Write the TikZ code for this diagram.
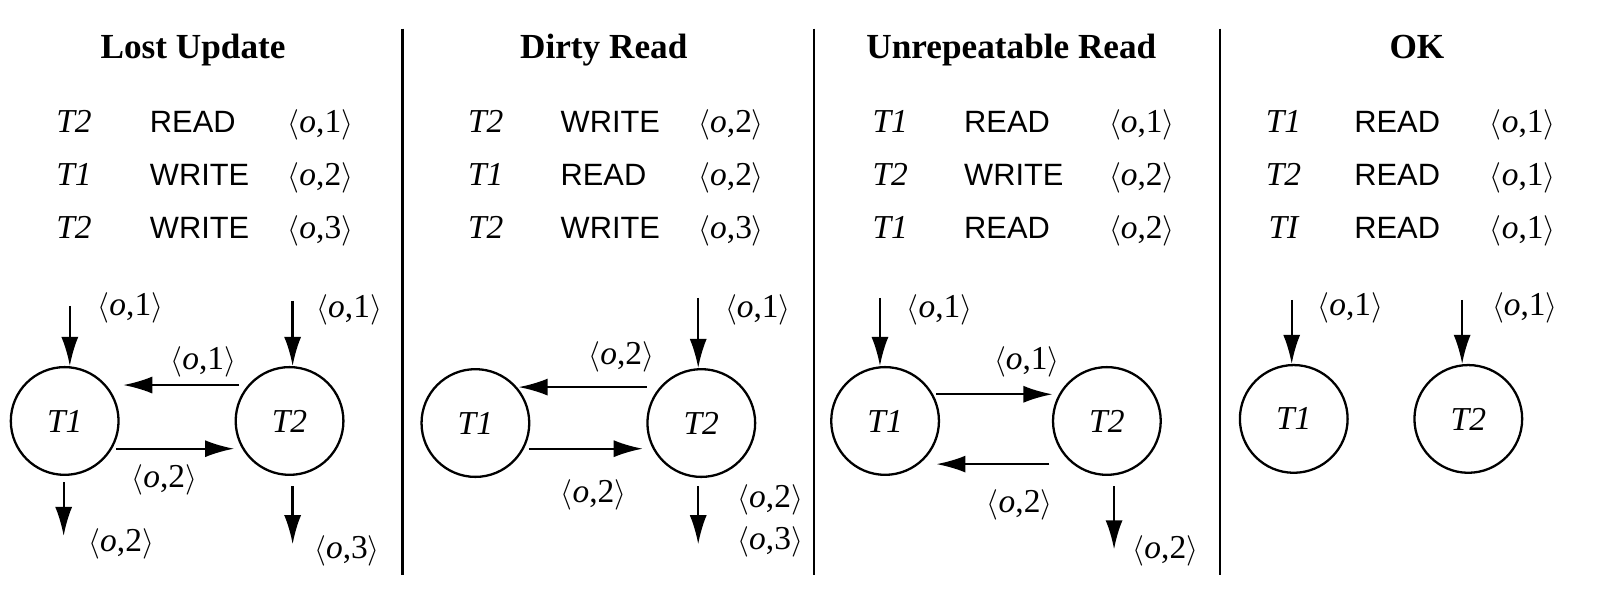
\documentclass[tikz,border=0pt]{standalone}
\usepackage{fontspec}
\setmainfont{Liberation Serif}
\setsansfont{Liberation Sans}
\usepackage{tikz}
\usetikzlibrary{calc}
\tikzset{>=latex}
\usetikzlibrary{arrows.meta}

\newcommand{\opair}[1]{$\langle$\textit{o},#1$\rangle$}

\begin{document}
\begin{tikzpicture}[x=0.0205cm,y=-0.0205cm,
  every node/.style={font=\fontsize{19}{22}\selectfont},
  ttl/.style={anchor=base,font=\fontsize{20}{24}\selectfont\bfseries},
  tx/.style={anchor=base,font=\fontsize{19}{22}\selectfont\itshape},
  op/.style={anchor=base west,font=\fontsize{17.5}{21}\selectfont\sffamily},
  pr/.style={anchor=base},
  tnode/.style={draw,circle,line width=1.3pt,minimum size=2.15cm,inner sep=0pt,
    font=\fontsize{19}{22}\selectfont\itshape},
  arr/.style={-{Latex[length=0.58cm,width=0.34cm]},line width=1.3pt},
  sep/.style={line width=1.4pt}]
\useasboundingbox (0,0) rectangle (1568,577);

% separators
\draw[sep] (392,28) -- (392,560);
\draw[sep] (793,28) -- (793,560);
\draw[sep] (1188,28) -- (1188,560);

% Lost Update
\node[ttl] (h1) at (188,57) {Lost Update};
\node[tx] (r11) at (72,129) {T2};
\node[op] (o11) at (140,129) {READ};
\node[pr] (p11) at (312,129) {\opair{1}};
\node[tx] (r12) at (72,181) {T1};
\node[op] (o12) at (140,181) {WRITE};
\node[pr] (p12) at (312,181) {\opair{2}};
\node[tx] (r13) at (72,232) {T2};
\node[op] (o13) at (140,232) {WRITE};
\node[pr] (p13) at (312,232) {\opair{3}};

\node[tnode] (a1) at (63,410) {T1};
\node[tnode] (b1) at (282,410) {T2};
\coordinate (ia1) at (68,298);
\coordinate (ib1) at (285,293);
\coordinate (oa1) at (62,522);
\coordinate (ob1) at (285,530);
\draw[arr] (ia1) -- (ia1 |- a1.north);
\draw[arr] (ib1) -- (ib1 |- b1.north);
\draw[arr] ($(b1.center)+(-49,-35)$) -- ($(a1.center)+(57,-35)$);
\draw[arr] ($(a1.center)+(50,27)$) -- ($(b1.center)+(-54,27)$);
\draw[arr] ($(oa1 |- a1.south)+(0,6)$) -- (oa1);
\draw[arr] ($(ob1 |- b1.south)+(0,10)$) -- (ob1);
\node (l11) at (127,300) {\opair{1}};
\node (l12) at (340,302) {\opair{1}};
\node (l13) at (198,352) {\opair{1}};
\node (l14) at (160,467) {\opair{2}};
\node (l15) at (118,530) {\opair{2}};
\node (l16) at (338,537) {\opair{3}};

% Dirty Read
\node[ttl] (h2) at (588,57) {Dirty Read};
\node[tx] (r21) at (473,129) {T2};
\node[op] (o21) at (540,129) {WRITE};
\node[pr] (p21) at (712,129) {\opair{2}};
\node[tx] (r22) at (473,181) {T1};
\node[op] (o22) at (540,181) {READ};
\node[pr] (p22) at (712,181) {\opair{2}};
\node[tx] (r23) at (473,232) {T2};
\node[op] (o23) at (540,232) {WRITE};
\node[pr] (p23) at (712,232) {\opair{3}};

\node[tnode] (a2) at (463,412) {T1};
\node[tnode] (b2) at (683,412) {T2};
\coordinate (ib2) at (680,290);
\coordinate (ob2) at (680,530);
\draw[arr] (ib2) -- (ib2 |- b2.north);
\draw[arr] ($(b2.center)+(-53,-35)$) -- ($(a2.center)+(42,-35)$);
\draw[arr] ($(a2.center)+(52,25)$) -- ($(b2.center)+(-57,25)$);
\draw[arr] ($(ob2 |- b2.south)+(0,8)$) -- (ob2);
\node (l21) at (738,302) {\opair{1}};
\node (l22) at (605,348) {\opair{2}};
\node (l23) at (578,482) {\opair{2}};
\node (l24) at (750,487) {\opair{2}};
\node (l25) at (750,528) {\opair{3}};

% Unrepeatable Read
\node[ttl] (h3) at (985,57) {Unrepeatable Read};
\node[tx] (r31) at (867,129) {T1};
\node[op] (o31) at (933,129) {READ};
\node[pr] (p31) at (1112,129) {\opair{1}};
\node[tx] (r32) at (867,181) {T2};
\node[op] (o32) at (933,181) {WRITE};
\node[pr] (p32) at (1112,181) {\opair{2}};
\node[tx] (r33) at (867,232) {T1};
\node[op] (o33) at (933,232) {READ};
\node[pr] (p33) at (1112,232) {\opair{2}};

\node[tnode] (a3) at (862,410) {T1};
\node[tnode] (b3) at (1078,410) {T2};
\coordinate (ia3) at (857,290);
\coordinate (ob3) at (1085,535);
\draw[arr] (ia3) -- (ia3 |- a3.north);
\draw[arr] ($(a3.center)+(50,-26)$) -- ($(b3.center)+(-53,-26)$);
\draw[arr] ($(b3.center)+(-56,42)$) -- ($(a3.center)+(50,42)$);
\draw[arr] ($(ob3 |- b3.south)+(0,10)$) -- (ob3);
\node (l31) at (915,302) {\opair{1}};
\node (l32) at (1000,352) {\opair{1}};
\node (l33) at (993,492) {\opair{2}};
\node (l34) at (1135,537) {\opair{2}};

% OK
\node[ttl] (h4) at (1380,57) {OK};
\node[tx] (r41) at (1250,129) {T1};
\node[op] (o41) at (1313,129) {READ};
\node[pr] (p41) at (1483,129) {\opair{1}};
\node[tx] (r42) at (1250,181) {T2};
\node[op] (o42) at (1313,181) {READ};
\node[pr] (p42) at (1483,181) {\opair{1}};
\node[tx] (r43) at (1250,232) {TI};
\node[op] (o43) at (1313,232) {READ};
\node[pr] (p43) at (1483,232) {\opair{1}};

\node[tnode] (a4) at (1260,408) {T1};
\node[tnode] (b4) at (1430,408) {T2};
\coordinate (ia4) at (1258,292);
\coordinate (ib4) at (1424,292);
\draw[arr] (ia4) -- (ia4 |- a4.north);
\draw[arr] (ib4) -- (ib4 |- b4.north);
\node (l41) at (1315,300) {\opair{1}};
\node (l42) at (1485,300) {\opair{1}};
\end{tikzpicture}
\end{document}
